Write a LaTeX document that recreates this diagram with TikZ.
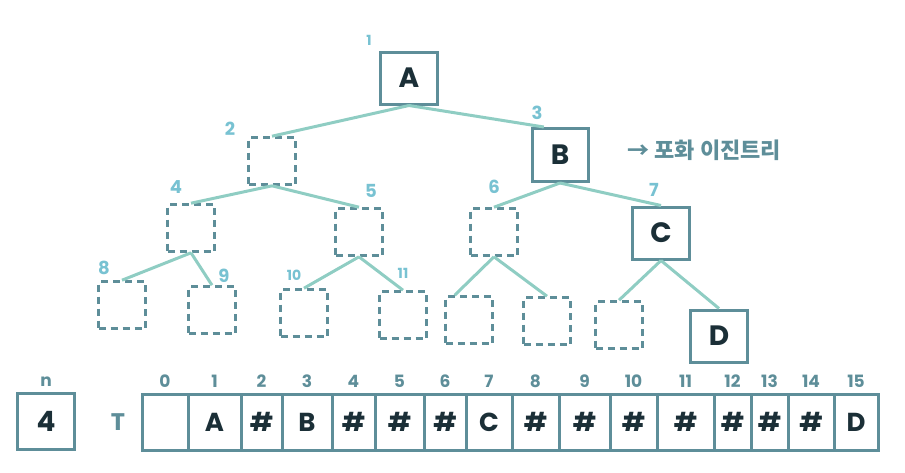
\documentclass[tikz,border=0pt]{standalone}
\usepackage{fontspec}
\setmainfont{Poppins}
\newfontfamily\krfont{Noto Sans CJK KR}
\usetikzlibrary{positioning}
\definecolor{boxline}{HTML}{5E8E99}
\definecolor{edgeline}{HTML}{8FCDC3}
\definecolor{idxcol}{HTML}{78C2D2}
\definecolor{inkcol}{HTML}{1B2F37}
\begin{document}
\begin{tikzpicture}[x=1pt, y=-1pt,
    keybox/.style={draw=boxline, line width=3pt, minimum width=57pt, minimum height=52pt,
      inner sep=0pt, text=inkcol, font=\fontsize{28}{28}\selectfont\bfseries},
    hole/.style={draw=boxline, line width=2.6pt, dash pattern=on 7pt off 5pt,
      minimum size=47pt, inner sep=0pt},
    link/.style={draw=edgeline, line width=3pt},
    idx/.style={text=idxcol, font=\fontsize{18}{18}\selectfont\bfseries},
    slot/.style={draw=boxline, line width=3pt, minimum height=56pt, inner sep=0pt,
      text=inkcol, font=\fontsize{26}{26}\selectfont\bfseries},
    posnum/.style={text=boxline, font=\fontsize{17}{17}\selectfont\bfseries}]
    \useasboundingbox (0,0) rectangle (905,472);
    % Tree nodes
    \node[keybox] (n1) at (409,78) {A};
    \node[hole] (n2) at (272,161) {};
    \node[keybox, minimum width=56pt, minimum height=53pt] (n3) at (560,155) {B};
    \node[hole] (n4) at (191,228) {};
    \node[hole] (n5) at (359,232) {};
    \node[hole] (n6) at (494,232) {};
    \node[keybox] (n7) at (661,233) {C};
    \node[hole] (n8) at (122,305) {};
    \node[hole] (n9) at (212,310) {};
    \node[hole] (n10) at (304,313) {};
    \node[hole] (n11) at (403,315) {};
    \node[hole] (n12) at (469,320) {};
    \node[hole] (n13) at (547,321) {};
    \node[hole] (n14) at (619,325) {};
    \node[keybox] (n15) at (719,336) {D};
    % Tree indices
    \node[idx, font=\fontsize{14}{14}\selectfont\bfseries] (l1) at (369,40) {1};
    \node[idx] (l2) at (230,129) {2};
    \node[idx] (l3) at (537,113) {3};
    \node[idx] (l4) at (176,187) {4};
    \node[idx] (l5) at (371,191) {5};
    \node[idx] (l6) at (494,187) {6};
    \node[idx] (l7) at (654,190) {7};
    \node[idx] (l8) at (104,268) {8};
    \node[idx] (l9) at (224,276) {9};
    \node[idx, font=\fontsize{14}{14}\selectfont\bfseries] (l10) at (294,275) {10};
    \node[idx, font=\fontsize{14}{14}\selectfont\bfseries] (l11) at (403,273) {11};
    % Edges
    \draw[link] (n1.south) -- (n2.north);
    \draw[link] (n1.south) -- (n3.120);
    \draw[link] (n2.south) -- (n4.north);
    \draw[link] (n2.south) -- (n5.north);
    \draw[link] (n3.south) -- (n6.north);
    \draw[link] (n3.south) -- (n7.north);
    \draw[link] (n4.south) -- (n8.north);
    \draw[link] (n4.south) -- (n9.north);
    \draw[link] (n5.south) -- (n10.north);
    \draw[link] (n5.south) -- (n11.north);
    \draw[link] (n6.south) -- (n12.120);
    \draw[link] (n6.south) -- (n13.north);
    \draw[link] (n7.south) -- (n14.north);
    \draw[link] (n7.south) -- (n15.north);
    % Note
    \node[text=boxline, anchor=west, font=\krfont\fontsize{22}{22}\selectfont\bfseries] (note) at (624,150) {→ 포화 이진트리};
    % Count and array
    \node[keybox, minimum height=56pt] (nbox) at (46,421) {4};
    \node[posnum, above=1pt of nbox] (nlab) {n};
    \node[text=boxline, font=\fontsize{24}{24}\selectfont\bfseries] (tlab) at (118,422) {T};
    \foreach \i/\l/\r/\t in {0/142/188/{}, 1/188/241/A, 2/241/282/\#, 3/282/332/B,
        4/332/375/\#, 5/375/424/\#, 6/424/466/\#, 7/466/512/C, 8/512/559/\#,
        9/559/610/\#, 10/610/657/\#, 11/657/714/\#, 12/714/751/\#, 13/751/788/\#,
        14/788/834/\#, 15/834/878/D} {
      \node[slot, minimum width={(\r-\l)*1pt}] (c\i) at ({(\l+\r)/2},422) {\t};
      \node[posnum, above=1pt of c\i] (p\i) {\i};
    }
\end{tikzpicture}
\end{document}
